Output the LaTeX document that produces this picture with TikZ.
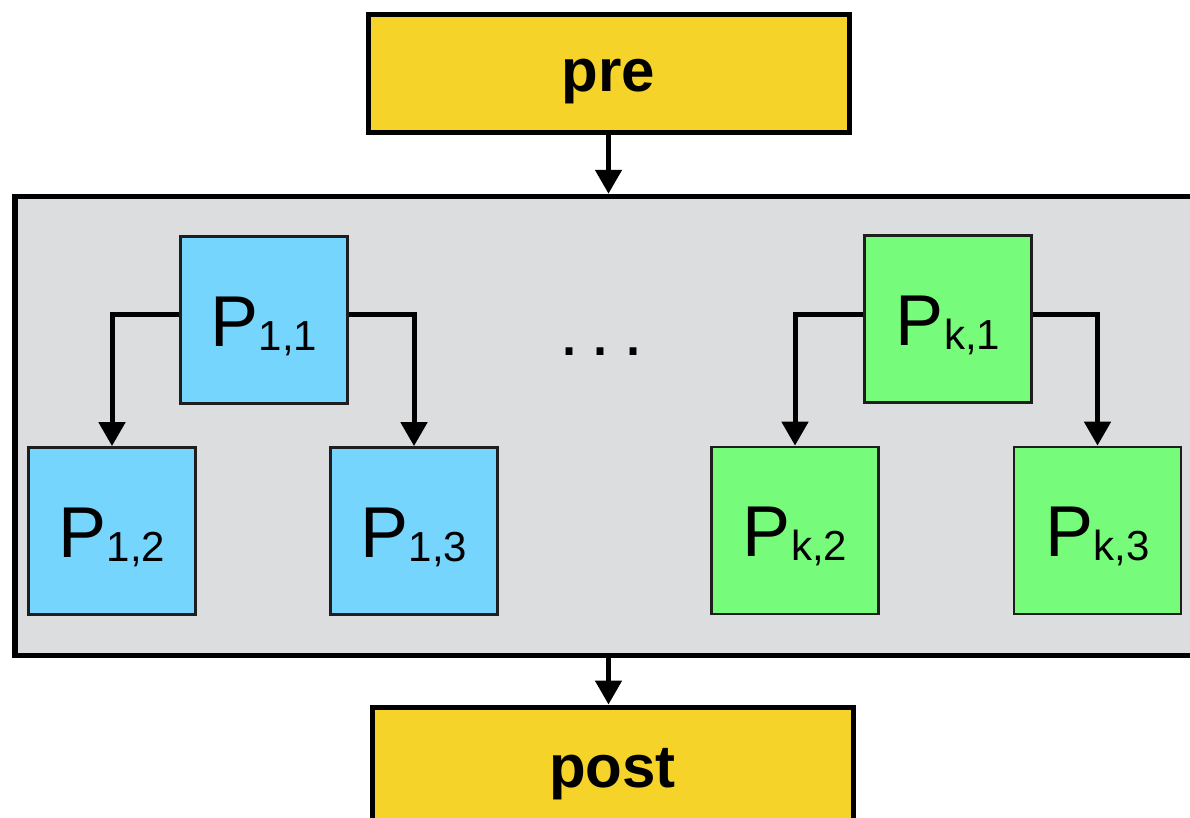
\documentclass[tikz,border=0pt]{standalone}
\usepackage{fontspec}
\setmainfont{Liberation Sans}
\usetikzlibrary{arrows.meta}
\definecolor{yel}{HTML}{F5D329}
\definecolor{blu}{HTML}{75D5FD}
\definecolor{grn}{HTML}{76FB7A}
\definecolor{gry}{HTML}{DCDDDF}
\definecolor{edg}{HTML}{1E1E1E}
\newcommand{\Plab}[2]{\fontsize{72}{72}\selectfont P\raisebox{-4pt}{\fontsize{42}{42}\selectfont #1,#2}}
\tikzset{
  pbox/.style={draw=edg, line width=2.8pt, minimum size=167pt, inner sep=0pt,
    text height=52pt, text depth=0pt},
  bluebox/.style={pbox, fill=blu},
  greenbox/.style={pbox, fill=grn},
  stagebox/.style={draw=black, line width=5pt, fill=yel, minimum width=481pt,
    minimum height=117.5pt, inner sep=0pt, font=\bfseries\fontsize{60}{60}\selectfont},
  groupbox/.style={draw=black, line width=5.5pt, fill=gry, minimum width=1190pt,
    minimum height=459pt, inner sep=0pt},
  conn/.style={line width=5pt, -{Triangle[width=26pt,length=24pt]}},
}
\begin{document}
\begin{tikzpicture}[x=1pt,y=-1pt]
\useasboundingbox (0,0) rectangle (1190,817);
\clip (0,0) rectangle (1190,817);
\fill[white] (0,0) rectangle (1190,817);
\node[stagebox, text height=36pt, text depth=0pt] (pre) at (608.5,73.25) {pre};
\node[groupbox] (group) at (610,426) {};
\node[stagebox, text height=44pt, text depth=0pt] (post) at (612.5,765.75) {post};
\node[bluebox] (p11) at (264,320) {\Plab{1}{1}};
\node[bluebox] (p12) at (112,531) {\Plab{1}{2}};
\node[bluebox] (p13) at (414,531) {\Plab{1}{3}};
\node[greenbox] (pk1) at (948,319) {\Plab{k}{1}};
\node[greenbox] (pk2) at (795,530.5) {\Plab{k}{2}};
\node[greenbox] (pk3) at (1097.5,530.5) {\Plab{k}{3}};
\node[anchor=base, inner sep=0pt, font=\fontsize{72}{72}\selectfont] (dots) at (601,355) {.\kern12pt.\kern12pt.};
\draw[conn] (pre.south) -- (pre.south |- group.north);
\draw[conn] (group.south -| pre.south) -- (post.north -| pre.south);
\draw[conn] ([yshift=6pt]p11.west) -| (p12.north);
\draw[conn] ([yshift=6pt]p11.east) -| (p13.north);
\draw[conn] ([yshift=5pt]pk1.west) -| (pk2.north);
\draw[conn] ([yshift=5pt]pk1.east) -| (pk3.north);
\end{tikzpicture}
\end{document}
